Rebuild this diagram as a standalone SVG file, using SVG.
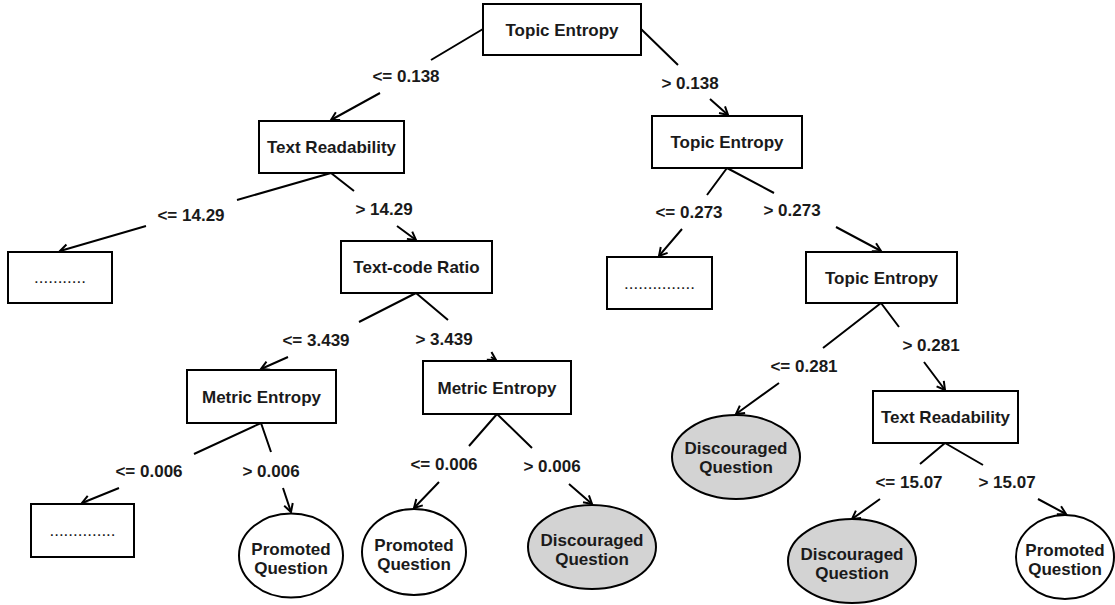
<svg xmlns="http://www.w3.org/2000/svg" width="1115" height="605" viewBox="0 0 1115 605">
<style>
  .box { fill: #ffffff; stroke: #000000; stroke-width: 2; }
  .leafP { fill: #ffffff; stroke: #000000; stroke-width: 2; }
  .leafD { fill: #d3d3d3; stroke: #000000; stroke-width: 2; }
  .t { font-family: "Liberation Sans", Arial, sans-serif; font-size: 17px; font-weight: bold; fill: #1a1a1a; text-anchor: middle; }
  .dots { font-family: "Liberation Sans", Arial, sans-serif; font-size: 17px; fill: #1a1a1a; text-anchor: middle; }
  .edge { fill: none; stroke: #000000; stroke-width: 2; marker-end: url(#arr); }
  .lbl { font-family: "Liberation Sans", Arial, sans-serif; font-size: 17px; font-weight: bold; fill: #1a1a1a; text-anchor: middle; }
</style>
<defs>
  <marker id="arr" markerUnits="userSpaceOnUse" markerWidth="12" markerHeight="12" viewBox="0 0 12 12" refX="10" refY="6" orient="auto">
    <path d="M2,1.5 L10,6 L2,10.5" fill="none" stroke="#000000" stroke-width="2"/>
  </marker>
</defs>
<rect width="1115" height="605" fill="#ffffff"/>

<g id="connectors">
  <path class="edge" d="M483,29 L431,60 M380,93 L331,120"/>
  <text class="lbl" x="406" y="82">&lt;= 0.138</text>
  <path class="edge" d="M641,29 L678,65 M710,99 L728,115"/>
  <text class="lbl" x="690" y="89">&gt; 0.138</text>

  <path class="edge" d="M331,173 L237,200 M146,226 L60,251"/>
  <text class="lbl" x="191" y="221">&lt;= 14.29</text>
  <path class="edge" d="M331,173 L354,191 M397,226 L416,240"/>
  <text class="lbl" x="384" y="215">&gt; 14.29</text>

  <path class="edge" d="M416,293 L359,322 M288,357 L261,369"/>
  <text class="lbl" x="316" y="346">&lt;= 3.439</text>
  <path class="edge" d="M416,293 L448,320 M491,357 L496,360"/>
  <text class="lbl" x="444" y="345">&gt; 3.439</text>

  <path class="edge" d="M261,423 L194,454 M119,488 L82,503"/>
  <text class="lbl" x="149" y="477">&lt;= 0.006</text>
  <path class="edge" d="M261,423 L271,452 M283,488 L291,512"/>
  <text class="lbl" x="271" y="477">&gt; 0.006</text>

  <path class="edge" d="M497,414 L469,446 M439,482 L414,508"/>
  <text class="lbl" x="444" y="470">&lt;= 0.006</text>
  <path class="edge" d="M497,414 L532,448 M569,484 L592,504"/>
  <text class="lbl" x="552" y="472">&gt; 0.006</text>

  <path class="edge" d="M727,168 L707,195 M682,229 L659,256"/>
  <text class="lbl" x="689" y="218">&lt;= 0.273</text>
  <path class="edge" d="M727,168 L774,193 M836,227 L881,251"/>
  <text class="lbl" x="792" y="216">&gt; 0.273</text>

  <path class="edge" d="M881,303 L823,348 M779,383 L736,414"/>
  <text class="lbl" x="804" y="372">&lt;= 0.281</text>
  <path class="edge" d="M881,303 L899,327 M924,362 L945,390"/>
  <text class="lbl" x="931" y="351">&gt; 0.281</text>

  <path class="edge" d="M945,443 L920,464 M880,499 L852,519"/>
  <text class="lbl" x="909" y="488">&lt;= 15.07</text>
  <path class="edge" d="M945,443 L983,465 M1038,499 L1066,514"/>
  <text class="lbl" x="1007" y="488">&gt; 15.07</text>
</g>

<g id="node-root">
  <rect class="box" x="483" y="4" width="158" height="51"/>
  <text class="t" x="562" y="36">Topic Entropy</text>
</g>
<g id="node-text-readability-1">
  <rect class="box" x="259" y="121" width="145" height="52"/>
  <text class="t" x="331.5" y="153">Text Readability</text>
</g>
<g id="node-topic-entropy-2">
  <rect class="box" x="652" y="116" width="150" height="52"/>
  <text class="t" x="727" y="148">Topic Entropy</text>
</g>
<g id="node-more-1">
  <rect class="box" x="8" y="252" width="104" height="51"/>
  <text class="dots" x="60" y="283">...........</text>
</g>
<g id="node-text-code-ratio">
  <rect class="box" x="341" y="241" width="151" height="52"/>
  <text class="t" x="416.5" y="273">Text-code Ratio</text>
</g>
<g id="node-more-3">
  <rect class="box" x="607" y="257" width="105" height="52"/>
  <text class="dots" x="659.5" y="289">...............</text>
</g>
<g id="node-topic-entropy-3">
  <rect class="box" x="806" y="252" width="151" height="51"/>
  <text class="t" x="881.5" y="284">Topic Entropy</text>
</g>
<g id="node-metric-entropy-1">
  <rect class="box" x="187" y="370" width="149" height="53"/>
  <text class="t" x="261.5" y="403">Metric Entropy</text>
</g>
<g id="node-metric-entropy-2">
  <rect class="box" x="423" y="361" width="148" height="53"/>
  <text class="t" x="497" y="394">Metric Entropy</text>
</g>
<g id="node-text-readability-2">
  <rect class="box" x="873" y="391" width="145" height="52"/>
  <text class="t" x="945.5" y="423">Text Readability</text>
</g>
<g id="node-more-2">
  <rect class="box" x="31" y="504" width="103" height="53"/>
  <text class="dots" x="82.5" y="536">..............</text>
</g>
<g id="node-promoted-1">
  <ellipse class="leafP" cx="291" cy="555.5" rx="52" ry="42"/>
  <text class="t" x="291" y="554.5">Promoted</text>
  <text class="t" x="291" y="573.5">Question</text>
</g>
<g id="node-promoted-2">
  <ellipse class="leafP" cx="414" cy="552" rx="52" ry="43"/>
  <text class="t" x="414" y="551">Promoted</text>
  <text class="t" x="414" y="570">Question</text>
</g>
<g id="node-discouraged-1">
  <ellipse class="leafD" cx="592" cy="547" rx="64" ry="42"/>
  <text class="t" x="592" y="546">Discouraged</text>
  <text class="t" x="592" y="565">Question</text>
</g>
<g id="node-discouraged-2">
  <ellipse class="leafD" cx="736" cy="457" rx="64" ry="42"/>
  <text class="t" x="736" y="454">Discouraged</text>
  <text class="t" x="736" y="473">Question</text>
</g>
<g id="node-discouraged-3">
  <ellipse class="leafD" cx="852" cy="561" rx="64" ry="42"/>
  <text class="t" x="852" y="560">Discouraged</text>
  <text class="t" x="852" y="579">Question</text>
</g>
<g id="node-promoted-3">
  <ellipse class="leafP" cx="1065" cy="557" rx="49" ry="42"/>
  <text class="t" x="1065" y="556">Promoted</text>
  <text class="t" x="1065" y="575">Question</text>
</g>
</svg>
